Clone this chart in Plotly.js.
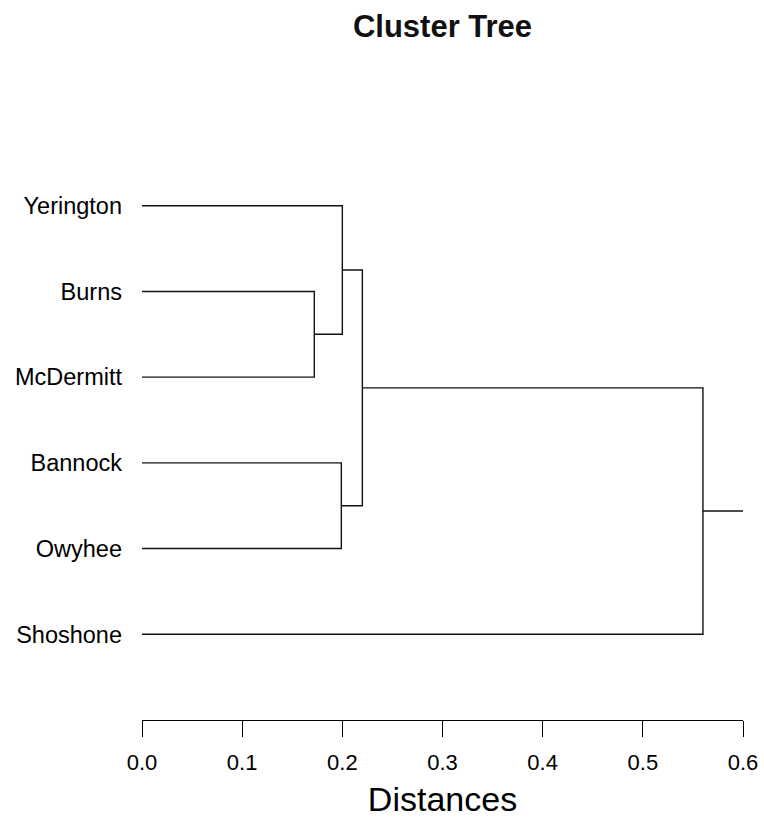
<!DOCTYPE html>
<html>
<head>
<meta charset="utf-8">
<script src="https://cdn.plot.ly/plotly-3.0.1.min.js"></script>
<style>html,body{margin:0;padding:0;background:#fff;}#chart{width:764px;height:819px;}</style>
</head>
<body>
<div id="chart"></div>
<script>
// Leaves in display order (top to bottom)
var leaves = ["Yerington", "Burns", "McDermitt", "Bannock", "Owyhee", "Shoshone"];
// R-style merge table: negative = leaf index (1-based), positive = earlier merge
var mergeA = [-2, -4, -1, 3, 4];
var mergeB = [-3, -5, 1, 2, -6];
var mergeHeight = [0.172, 0.199, 0.200, 0.220, 0.560];
var rootStubEnd = 0.6;
var xTickVals = [0.0, 0.1, 0.2, 0.3, 0.4, 0.5, 0.6];
var xTickText = ["0.0", "0.1", "0.2", "0.3", "0.4", "0.5", "0.6"];

var xs = [], ys = [];
var nodeY = [], nodeH = [];
function childInfo(c) {
  if (c < 0) return {y: -c, h: 0};
  return {y: nodeY[c - 1], h: nodeH[c - 1]};
}
for (var i = 0; i < mergeHeight.length; i++) {
  var a = childInfo(mergeA[i]), b = childInfo(mergeB[i]);
  var h = mergeHeight[i];
  xs.push(a.h, h, h, b.h, null);
  ys.push(a.y, a.y, b.y, b.y, null);
  nodeY.push((a.y + b.y) / 2);
  nodeH.push(h);
}
var root = nodeY.length - 1;
xs.push(nodeH[root], rootStubEnd, null);
ys.push(nodeY[root], nodeY[root], null);

var tickY = leaves.map(function (_, i) { return i + 1; });

var trace = {
  x: xs, y: ys, type: "scatter", mode: "lines",
  line: {color: "#111", width: 1.4},
  hoverinfo: "skip", showlegend: false, cliponaxis: false
};

var layout = {
  width: 764, height: 819,
  paper_bgcolor: "#fff", plot_bgcolor: "#fff",
  margin: {l: 142, r: 21, t: 120, b: 99},
  font: {family: "Liberation Sans, Arial, sans-serif", color: "#000"},
  title: {
    text: "<b>Cluster Tree</b>",
    font: {size: 31, family: "Liberation Sans, Arial, sans-serif", color: "#111"},
    xref: "paper", x: 0.5, xanchor: "center",
    yref: "container", y: 1 - 26 / 819, yanchor: "middle"
  },
  xaxis: {
    range: [0, 0.6], showgrid: false, zeroline: false,
    showline: true, linecolor: "#000", linewidth: 1,
    ticks: "outside", ticklen: 16, tickwidth: 1, tickcolor: "#000",
    tickvals: xTickVals, ticktext: xTickText,
    tickfont: {size: 22, color: "#000"},
    ticklabelstandoff: 7,
    title: {text: "Distances", font: {size: 34, color: "#000"}, standoff: 12},
    fixedrange: true
  },
  yaxis: {
    range: [7, 0], showgrid: false, zeroline: false, showline: false,
    ticks: "", tickvals: tickY, ticktext: leaves,
    tickfont: {size: 23.5, color: "#000"},
    ticklabelstandoff: 19,
    fixedrange: true
  }
};

Plotly.newPlot("chart", [trace], layout, {displayModeBar: false, staticPlot: true});
</script>
</body>
</html>
